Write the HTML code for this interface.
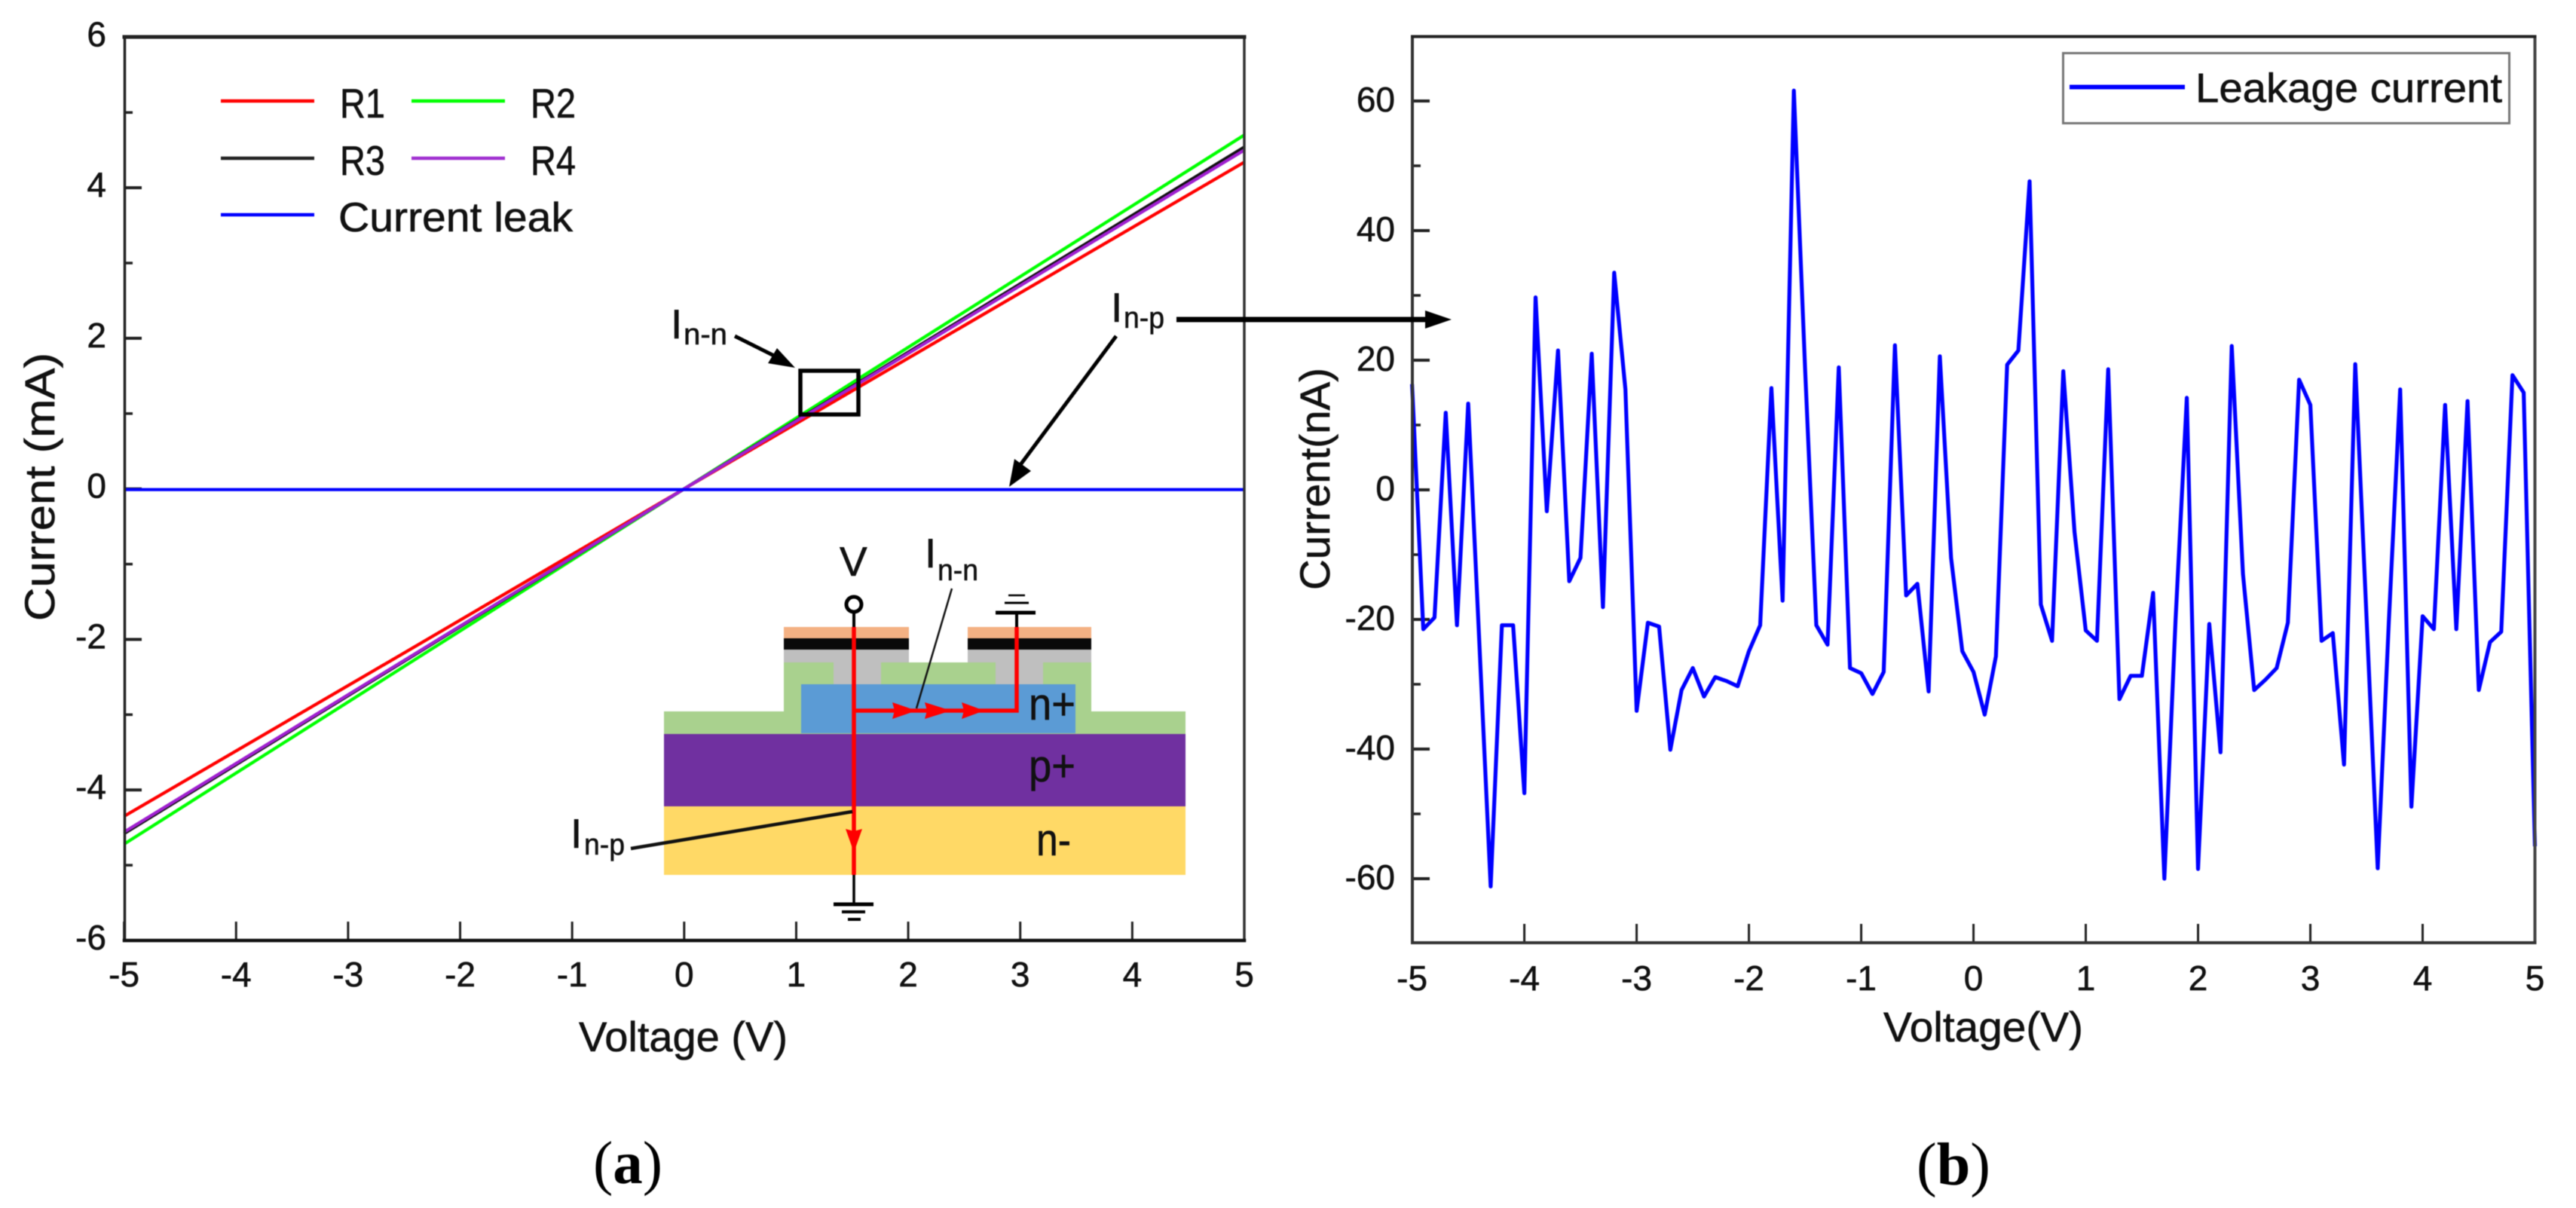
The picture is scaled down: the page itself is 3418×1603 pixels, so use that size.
<!DOCTYPE html>
<html lang="en">
<head>
<meta charset="utf-8">
<title>Current-voltage characteristics and leakage current</title>
<style>
html,body{margin:0;padding:0;background:#fff;}
svg{display:block;filter:blur(0.6px);}
text{font-family:"Liberation Sans",Arial,sans-serif;fill:#111;stroke:#111;stroke-width:0.6px;}
.tick-label{font-size:46px;}
.title{font-size:56px;}
.legend{font-size:55px;}
.layer{font-size:60px;}
.sub{font-size:40px;}
.cap{font-family:"Liberation Serif",serif;font-size:80px;fill:#000;stroke-width:0;}
</style>
</head>
<body>
<svg id="figure" xmlns="http://www.w3.org/2000/svg" width="3418" height="1603" viewBox="0 0 3418 1603">
  <rect x="0" y="0" width="3418" height="1603" fill="#ffffff"/>

  <g id="panel-a">
    <g id="a-ticks"></g>
    <g id="a-series"></g>
    <g id="a-spines" stroke-linecap="square">
      <line x1="165.5" y1="49" x2="165.5" y2="1248" stroke="#222" stroke-width="3.5"/>
      <line x1="1651" y1="49" x2="1651" y2="1248" stroke="#333" stroke-width="3.5"/>
      <line x1="165" y1="49" x2="1651" y2="49" stroke="#222" stroke-width="5"/>
      <line x1="165" y1="1248" x2="1651" y2="1248" stroke="#111" stroke-width="4.5"/>
    </g>
    <text class="title" transform="translate(72,824) rotate(-90)" textLength="356" lengthAdjust="spacingAndGlyphs">Current (mA)</text>
    <text class="title" x="768" y="1395" textLength="277" lengthAdjust="spacingAndGlyphs">Voltage (V)</text>

    <g>
      <line x1="293" y1="134" x2="417" y2="134" stroke="#ff0000" stroke-width="4.5"/>
      <text class="legend" x="451" y="156" textLength="60" lengthAdjust="spacingAndGlyphs">R1</text>
      <line x1="546" y1="134" x2="670" y2="134" stroke="#00ff00" stroke-width="4.5"/>
      <text class="legend" x="704" y="156" textLength="60" lengthAdjust="spacingAndGlyphs">R2</text>
      <line x1="293" y1="210" x2="417" y2="210" stroke="#222" stroke-width="4.5"/>
      <text class="legend" x="451" y="232" textLength="60" lengthAdjust="spacingAndGlyphs">R3</text>
      <line x1="546" y1="210" x2="670" y2="210" stroke="#a030d0" stroke-width="4.5"/>
      <text class="legend" x="704" y="232" textLength="60" lengthAdjust="spacingAndGlyphs">R4</text>
      <line x1="293" y1="285" x2="417" y2="285" stroke="#0000ff" stroke-width="4.5"/>
      <text class="legend" x="449" y="307" textLength="311" lengthAdjust="spacingAndGlyphs">Current leak</text>
    </g>

    <g>
      <rect x="881" y="1069" width="692" height="92" fill="#ffd966"/>
      <rect x="881" y="973" width="692" height="97" fill="#7030a0"/>
      <rect x="881" y="944" width="692" height="30" fill="#a9d18e"/>
      <rect x="1040" y="879" width="408" height="66" fill="#a9d18e"/>
      <rect x="1063" y="908" width="364" height="65" fill="#5b9bd5"/>
      <rect x="1106" y="879" width="63" height="29" fill="#bfbfbf"/>
      <rect x="1321" y="879" width="63" height="29" fill="#bfbfbf"/>
      <rect x="1040" y="862" width="166" height="17" fill="#bfbfbf"/>
      <rect x="1284" y="862" width="164" height="17" fill="#bfbfbf"/>
      <rect x="1040" y="847" width="166" height="15" fill="#0a0a0a"/>
      <rect x="1284" y="847" width="164" height="15" fill="#0a0a0a"/>
      <rect x="1040" y="832" width="166" height="15" fill="#f4b183"/>
      <rect x="1284" y="832" width="164" height="15" fill="#f4b183"/>

      <circle cx="1133" cy="802" r="10" fill="#fff" stroke="#000" stroke-width="5"/>
      <line x1="1133" y1="813" x2="1133" y2="832" stroke="#000" stroke-width="4"/>
      <line x1="1349" y1="813" x2="1349" y2="832" stroke="#000" stroke-width="4"/>
      <line x1="1321" y1="813" x2="1374" y2="813" stroke="#000" stroke-width="5"/>
      <line x1="1333" y1="800" x2="1365" y2="800" stroke="#000" stroke-width="3"/>
      <line x1="1338" y1="790" x2="1360" y2="790" stroke="#000" stroke-width="2.5"/>
      <line x1="1133" y1="1161" x2="1133" y2="1200" stroke="#000" stroke-width="3.5"/>
      <line x1="1106" y1="1200" x2="1159" y2="1200" stroke="#000" stroke-width="5"/>
      <line x1="1117" y1="1210" x2="1148" y2="1210" stroke="#000" stroke-width="4"/>
      <line x1="1125" y1="1220" x2="1142" y2="1220" stroke="#000" stroke-width="4"/>

      <line x1="1133" y1="832" x2="1133" y2="1161" stroke="#ff0000" stroke-width="5.5"/>
      <polyline points="1133,943 1349,943 1349,832" fill="none" stroke="#ff0000" stroke-width="5.5"/>
      <polygon points="1184,932 1216,943 1184,954 1187,943" fill="#ff0000"/>
      <polygon points="1227,932 1262,943 1227,954 1230,943" fill="#ff0000"/>
      <polygon points="1276,932 1306,943 1276,954 1279,943" fill="#ff0000"/>
      <polygon points="1122,1100 1133,1131 1144,1100 1133,1103" fill="#ff0000"/>

      <line x1="1263" y1="781" x2="1216" y2="940" stroke="#111" stroke-width="2.5"/>
      <line x1="837" y1="1126" x2="1131" y2="1077" stroke="#111" stroke-width="4.5"/>

      <text class="legend" x="1114" y="764">V</text>
      <text class="legend" x="1227" y="753">I</text>
      <text class="sub" x="1244" y="770" textLength="54" lengthAdjust="spacingAndGlyphs">n-n</text>
      <text class="legend" x="757" y="1125">I</text>
      <text class="sub" x="775" y="1134" textLength="54" lengthAdjust="spacingAndGlyphs">n-p</text>
      <text class="layer" x="1365" y="955" textLength="62" lengthAdjust="spacingAndGlyphs">n+</text>
      <text class="layer" x="1365" y="1037" textLength="62" lengthAdjust="spacingAndGlyphs">p+</text>
      <text class="layer" x="1375" y="1135" textLength="46" lengthAdjust="spacingAndGlyphs">n-</text>
    </g>

    <g>
      <rect x="1062" y="492" width="77" height="58" fill="none" stroke="#000" stroke-width="5.5"/>
      <text class="legend" x="890" y="449">I</text>
      <text class="sub" x="907" y="457" textLength="58" lengthAdjust="spacingAndGlyphs">n-n</text>
      <line x1="975" y1="446" x2="1035" y2="476" stroke="#000" stroke-width="5"/>
      <polygon points="1055,488 1019,482 1031,462" fill="#000"/>
      <text class="legend" x="1474" y="427">I</text>
      <text class="sub" x="1491" y="435" textLength="54" lengthAdjust="spacingAndGlyphs">n-p</text>
      <line x1="1481" y1="446" x2="1350" y2="622" stroke="#000" stroke-width="5"/>
      <polygon points="1339,646 1346,609 1368,625" fill="#000"/>
    </g>
    <text class="cap" x="787" y="1570" textLength="92" lengthAdjust="spacingAndGlyphs">(<tspan font-weight="bold">a</tspan>)</text>
  </g>

  <g id="panel-b">
    <g id="b-ticks"></g>
    <g id="b-series"></g>
    <g stroke-linecap="square">
      <line x1="1874" y1="48.5" x2="1874" y2="1251" stroke="#333" stroke-width="4"/>
      <line x1="3363.5" y1="48.5" x2="3363.5" y2="1251" stroke="#444" stroke-width="4"/>
      <line x1="1874" y1="48.5" x2="3363.5" y2="48.5" stroke="#222" stroke-width="4"/>
      <line x1="1874" y1="1251" x2="3363.5" y2="1251" stroke="#333" stroke-width="4"/>
    </g>
    <text class="title" transform="translate(1764,783) rotate(-90)" textLength="295" lengthAdjust="spacingAndGlyphs">Current(nA)</text>
    <text class="title" x="2499" y="1382" textLength="265" lengthAdjust="spacingAndGlyphs">Voltage(V)</text>
    <g>
      <rect x="2737.5" y="70.5" width="592" height="93" fill="#fff" stroke="#777" stroke-width="3"/>
      <line x1="2746" y1="115.5" x2="2899" y2="115.5" stroke="#0000ff" stroke-width="6"/>
      <text class="legend" x="2913" y="135.5" textLength="407" lengthAdjust="spacingAndGlyphs">Leakage current</text>
    </g>
    <text class="cap" x="2543" y="1572" textLength="98" lengthAdjust="spacingAndGlyphs">(<tspan font-weight="bold">b</tspan>)</text>
  </g>

  <g>
    <line x1="1561" y1="424" x2="1895" y2="424" stroke="#000" stroke-width="7"/>
    <polygon points="1926,424 1891,412 1891,436" fill="#000"/>
  </g>
</svg>

<script>
// Panel (a) data
const voltageA = [-5, -2.5, 0, 2.5, 5];
const currentR1 = [-4.35, -2.18, 0, 2.17, 4.34];
const currentR2 = [-4.72, -2.36, 0, 2.35, 4.70];
const currentR3 = [-4.58, -2.29, 0, 2.27, 4.54];
const currentR4 = [-4.56, -2.28, 0, 2.25, 4.50];
const currentLeak = [-0.01, -0.01, -0.01, -0.01, -0.01];
const xTicksA = [-5, -4, -3, -2, -1, 0, 1, 2, 3, 4, 5];
const yMajorTicksA = [-6, -4, -2, 0, 2, 4, 6];
const yMinorTicksA = [-5, -3, -1, 1, 3, 5];

// Panel (b) data
const voltageB = [-5,-4.9,-4.8,-4.7,-4.6,-4.5,-4.4,-4.3,-4.2,-4.1,-4,-3.9,-3.8,-3.7,-3.6,-3.5,-3.4,-3.3,-3.2,-3.1,-3,-2.9,-2.8,-2.7,-2.6,-2.5,-2.4,-2.3,-2.2,-2.1,-2,-1.9,-1.8,-1.7,-1.6,-1.5,-1.4,-1.3,-1.2,-1.1,-1,-0.9,-0.8,-0.7,-0.6,-0.5,-0.4,-0.3,-0.2,-0.1,0,0.1,0.2,0.3,0.4,0.5,0.6,0.7,0.8,0.9,1,1.1,1.2,1.3,1.4,1.5,1.6,1.7,1.8,1.9,2,2.1,2.2,2.3,2.4,2.5,2.6,2.7,2.8,2.9,3,3.1,3.2,3.3,3.4,3.5,3.6,3.7,3.8,3.9,4,4.1,4.2,4.3,4.4,4.5,4.6,4.7,4.8,4.9,5];
const leakageCurrent = [16.3,-21.5,-19.7,11.9,-20.9,13.3,-23.9,-61.2,-20.9,-20.9,-46.8,29.7,-3.3,21.5,-14.1,-10.5,21,-18.1,33.5,15.5,-34.1,-20.5,-21.1,-40.1,-30.9,-27.5,-31.9,-28.9,-29.5,-30.3,-24.9,-20.9,15.7,-17.1,61.6,18.7,-20.9,-23.9,18.9,-27.5,-28.3,-31.5,-28.1,22.3,-16.3,-14.5,-31.1,20.6,-10.5,-24.9,-28.1,-34.7,-25.7,19.3,21.5,47.6,-17.7,-23.3,18.3,-6.5,-21.7,-23.3,18.6,-32.3,-28.7,-28.7,-15.9,-60,-20,14.2,-58.5,-20.7,-40.5,22.2,-13,-30.9,-29.3,-27.5,-20.5,17,13.1,-23.3,-22.1,-42.4,19.4,-19.5,-58.4,-20,15.5,-48.9,-19.5,-21.5,13.1,-21.5,13.7,-30.9,-23.5,-21.9,17.7,15,-55];
const xTicksB = [-5, -4, -3, -2, -1, 0, 1, 2, 3, 4, 5];
const yMajorTicksB = [-60, -40, -20, 0, 20, 40, 60];
const yMinorTicksB = [-50, -30, -10, 10, 30, 50];

// Axis functions
function xA(v) { return 164.6 + (v + 5) / 10 * (1651 - 164.6); }
function yA(v) { return 1248 - (v + 6) / 12 * (1248 - 49.4); }
function xB(v) { return 1873.6 + (v + 5) / 10 * (3363.5 - 1873.6); }
function yB(v) { return 1252 - (v + 70) / 140 * (1252 - 48); }

const NS = 'http://www.w3.org/2000/svg';
function make(tag, attrs, parent) {
  const node = document.createElementNS(NS, tag);
  for (const key in attrs) node.setAttribute(key, attrs[key]);
  parent.appendChild(node);
  return node;
}
function pointsOf(xs, ys, fx, fy) {
  return xs.map(function (x, i) { return fx(x).toFixed(1) + ',' + fy(ys[i]).toFixed(1); }).join(' ');
}

function drawAxis(group, prefix, xTicks, yMajor, yMinor, fx, fy, spineLeft, spineBottom, yLabelX, xLabelBaseline, yLabelDrop, tickColor) {
  xTicks.forEach(function (v) {
    const tick = make('line', { x1: fx(v), x2: fx(v), y1: spineBottom - 24, y2: spineBottom, stroke: tickColor, 'stroke-width': 3 }, group);
    
    
    const label = make('text', { x: fx(v), y: xLabelBaseline, 'text-anchor': 'middle', 'class': 'tick-label' }, group);
    label.textContent = String(v);
    
    
  });
  yMajor.forEach(function (v) {
    const tick = make('line', { x1: spineLeft, x2: spineLeft + 23, y1: fy(v), y2: fy(v), stroke: tickColor, 'stroke-width': 4 }, group);
    
    
    const label = make('text', { x: yLabelX, y: fy(v) + yLabelDrop, 'text-anchor': 'end', 'class': 'tick-label' }, group);
    label.textContent = String(v);
    
    
  });
  yMinor.forEach(function (v) {
    const tick = make('line', { x1: spineLeft, x2: spineLeft + 11, y1: fy(v), y2: fy(v), stroke: tickColor, 'stroke-width': 3.5 }, group);
    
    
  });
}

drawAxis(document.getElementById('a-ticks'), 'panel-a', xTicksA, yMajorTicksA, yMinorTicksA, xA, yA, 165, 1247, 141, 1309, 12, '#222');
drawAxis(document.getElementById('b-ticks'), 'panel-b', xTicksB, yMajorTicksB, yMinorTicksB, xB, yB, 1874, 1250, 1851, 1314, 14, '#222');

const seriesGroupA = document.getElementById('a-series');

const lineR1 = make('polyline', { points: pointsOf(voltageA, currentR1, xA, yA), fill: 'none', stroke: '#ff0000', 'stroke-width': 4.2 }, seriesGroupA);



const lineR2 = make('polyline', { points: pointsOf(voltageA, currentR2, xA, yA), fill: 'none', stroke: '#00ff00', 'stroke-width': 4.2 }, seriesGroupA);



const lineR3 = make('polyline', { points: pointsOf(voltageA, currentR3, xA, yA), fill: 'none', stroke: '#111111', 'stroke-width': 4.2 }, seriesGroupA);



const lineR4 = make('polyline', { points: pointsOf(voltageA, currentR4, xA, yA), fill: 'none', stroke: '#a020d0', 'stroke-width': 4.2 }, seriesGroupA);



const lineLeak = make('polyline', { points: pointsOf(voltageA, currentLeak, xA, yA), fill: 'none', stroke: '#0000ff', 'stroke-width': 4.2 }, seriesGroupA);



const lineLeakage = make('polyline', { points: pointsOf(voltageB, leakageCurrent, xB, yB), fill: 'none', stroke: '#0000ff', 'stroke-width': 5.2, 'stroke-linejoin': 'round' }, document.getElementById('b-series'));


</script>
</body>
</html>
